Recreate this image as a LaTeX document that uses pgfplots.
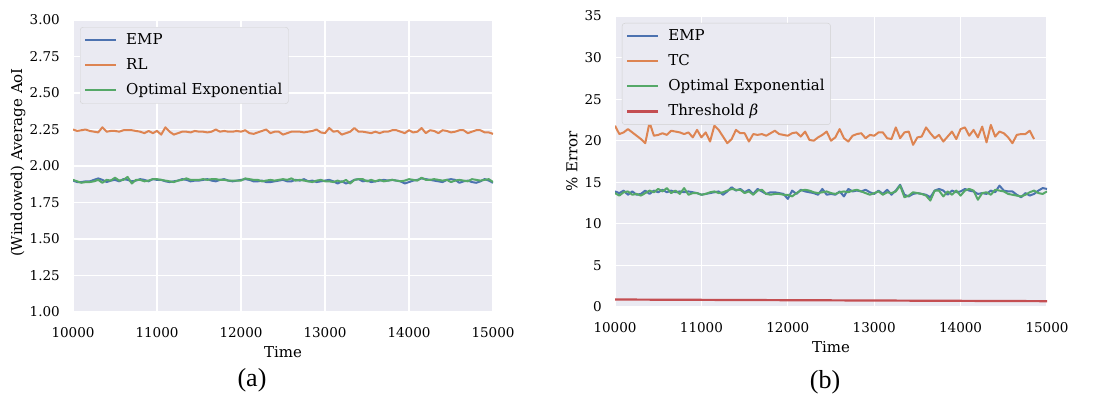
\documentclass[border=0pt]{standalone}
\usepackage{fontspec}
\setmainfont{DejaVu Serif}
\newfontfamily\capfont{Liberation Serif}
\usepackage{pgfplots}
\usepackage{pgfplotstable}
\pgfplotsset{compat=1.18}
\definecolor{sbblue}{HTML}{4C72B0}
\definecolor{sborange}{HTML}{DD8452}
\definecolor{sbgreen}{HTML}{55A868}
\definecolor{sbred}{HTML}{C44E52}
\definecolor{sbbg}{HTML}{EAEAF2}
\newcommand{\tf}{\fontsize{13.5bp}{16bp}\selectfont}
\newcommand{\lf}{\fontsize{15bp}{18bp}\selectfont}

\pgfplotstableread{
t emp rl opt
10000 1.90 2.25 1.905
10050 1.89 2.24 1.895
10100 1.89 2.245 1.885
10150 1.895 2.25 1.89
10200 1.895 2.24 1.89
10250 1.905 2.235 1.895
10300 1.915 2.23 1.905
10350 1.905 2.265 1.885
10400 1.89 2.235 1.905
10450 1.90 2.24 1.90
10500 1.905 2.24 1.92
10550 1.895 2.235 1.90
10600 1.91 2.245 1.905
10650 1.905 2.245 1.925
10700 1.895 2.245 1.88
10750 1.90 2.24 1.905
10800 1.91 2.235 1.905
10850 1.905 2.225 1.895
10900 1.895 2.24 1.90
10950 1.91 2.225 1.91
11000 1.905 2.24 1.91
11050 1.905 2.215 1.905
11100 1.895 2.265 1.90
11150 1.89 2.235 1.895
11200 1.895 2.215 1.89
11250 1.90 2.225 1.90
11300 1.91 2.235 1.905
11350 1.905 2.235 1.915
11400 1.895 2.23 1.905
11450 1.90 2.24 1.905
11500 1.90 2.235 1.905
11550 1.905 2.235 1.91
11600 1.91 2.23 1.905
11650 1.90 2.235 1.91
11700 1.895 2.25 1.91
11750 1.905 2.235 1.905
11800 1.91 2.24 1.905
11850 1.90 2.235 1.90
11900 1.895 2.235 1.90
11950 1.90 2.24 1.90
12000 1.905 2.235 1.90
12050 1.91 2.245 1.915
12100 1.905 2.225 1.91
12150 1.895 2.22 1.905
12200 1.895 2.23 1.905
12250 1.90 2.24 1.895
12300 1.89 2.25 1.90
12350 1.89 2.225 1.905
12400 1.895 2.235 1.90
12450 1.90 2.235 1.905
12500 1.905 2.215 1.91
12550 1.895 2.225 1.905
12600 1.895 2.235 1.915
12650 1.905 2.235 1.90
12700 1.90 2.235 1.905
12750 1.91 2.23 1.90
12800 1.895 2.235 1.895
12850 1.90 2.24 1.89
12900 1.89 2.25 1.90
12950 1.895 2.23 1.905
13000 1.90 2.225 1.895
13050 1.905 2.26 1.895
13100 1.895 2.235 1.89
13150 1.88 2.24 1.90
13200 1.895 2.215 1.89
13250 1.88 2.225 1.905
13300 1.89 2.235 1.88
13350 1.905 2.26 1.905
13400 1.91 2.235 1.91
13450 1.895 2.235 1.91
13500 1.90 2.23 1.895
13550 1.89 2.225 1.905
13600 1.895 2.235 1.895
13650 1.90 2.225 1.905
13700 1.905 2.235 1.895
13750 1.90 2.235 1.90
13800 1.905 2.245 1.905
13850 1.90 2.245 1.90
13900 1.895 2.235 1.895
13950 1.88 2.225 1.90
14000 1.89 2.245 1.91
14050 1.90 2.23 1.905
14100 1.905 2.235 1.90
14150 1.915 2.26 1.92
14200 1.91 2.225 1.905
14250 1.905 2.245 1.905
14300 1.90 2.24 1.91
14350 1.895 2.225 1.905
14400 1.89 2.245 1.90
14450 1.905 2.24 1.905
14500 1.91 2.23 1.89
14550 1.905 2.235 1.90
14600 1.885 2.245 1.905
14650 1.895 2.245 1.90
14700 1.90 2.225 1.895
14750 1.89 2.235 1.91
14800 1.885 2.245 1.905
14850 1.895 2.245 1.90
14900 1.91 2.23 1.905
14950 1.90 2.23 1.91
15000 1.885 2.22 1.89
}\tblA

\pgfplotstableread{
t emp opt
10000 13.9 13.7
10050 13.7 13.4
10100 14.0 13.8
10150 13.5 13.9
10200 13.9 13.5
10250 13.5 13.6
10300 13.6 13.4
10350 14.0 13.7
10400 13.6 14.0
10450 14.0 13.8
10500 13.8 14.2
10550 14.1 13.9
10600 13.8 14.3
10650 14.0 13.7
10700 13.8 14.0
10750 13.9 13.6
10800 13.8 14.3
10850 13.9 13.5
10900 13.8 13.7
10950 13.7 13.7
11000 13.5 13.5
11050 13.6 13.6
11100 13.7 13.8
11150 13.8 13.9
11200 13.9 13.7
11250 13.5 13.8
11300 13.9 14.0
11350 14.4 14.2
11400 14.0 14.1
11450 14.2 14.1
11500 13.8 13.7
11550 14.1 13.9
11600 13.6 13.5
11650 14.2 14.0
11700 13.9 14.1
11750 13.6 13.6
11800 13.8 13.5
11850 13.8 13.6
11900 13.7 13.6
11950 13.6 13.5
12000 13.0 13.5
12050 14.0 13.3
12100 13.6 13.7
12150 14.1 14.0
12200 13.9 14.1
12250 13.8 14.0
12300 13.7 13.8
12350 13.5 13.7
12400 14.2 13.8
12450 13.5 13.9
12500 13.6 13.7
12550 13.5 13.6
12600 13.9 13.8
12650 13.3 13.9
12700 14.2 13.8
12750 13.9 14.0
12800 14.0 14.1
12850 13.9 13.9
12900 14.1 13.7
12950 13.8 13.5
13000 13.6 13.7
13050 14.0 13.9
13100 13.6 13.5
13150 14.1 13.8
13200 13.5 13.7
13250 14.0 13.9
13300 14.7 14.6
13350 13.5 13.2
13400 13.3 13.4
13450 13.6 13.8
13500 13.7 13.7
13550 13.6 13.6
13600 13.5 13.4
13650 13.2 12.8
13700 14.0 14.0
13750 14.2 14.0
13800 14.0 13.3
13850 13.5 13.9
13900 14.0 13.5
13950 13.8 14.0
14000 13.9 13.4
14050 14.2 14.0
14100 14.0 14.2
14150 13.9 14.0
14200 13.6 12.9
14250 13.7 13.7
14300 13.6 13.8
14350 14.0 13.5
14400 13.8 14.1
14450 14.6 14.0
14500 14.0 13.9
14550 13.9 13.6
14600 13.9 13.5
14650 13.5 13.4
14700 13.2 13.3
14750 13.7 13.5
14800 13.4 13.8
14850 13.6 14.0
14900 14.0 13.7
14950 14.3 13.6
15000 14.2 13.9
}\tblB

\pgfplotstableread{
t tc
10000 21.8
10050 20.8
10100 21.0
10150 21.4
10200 21.0
10250 20.6
10300 20.2
10350 19.7
10400 22.2
10450 20.6
10500 20.7
10550 20.9
10600 20.7
10650 21.2
10700 21.1
10750 21.0
10800 20.8
10850 21.0
10900 20.4
10950 21.3
11000 20.4
11050 21.0
11100 19.9
11150 21.8
11200 21.3
11250 20.5
11300 19.7
11350 20.2
11400 21.3
11450 20.9
11500 20.9
11550 19.9
11600 20.8
11650 20.7
11700 20.8
11750 20.6
11800 20.9
11850 21.2
11900 20.8
11950 20.7
12000 20.6
12050 20.9
12100 21.0
12150 20.5
12200 21.1
12250 20.1
12300 20.0
12350 20.4
12400 20.7
12450 21.1
12500 20.0
12550 20.4
12600 21.4
12650 20.3
12700 19.9
12750 20.6
12800 20.8
12850 20.9
12900 20.3
12950 20.7
13000 20.6
13050 21.0
13100 21.0
13150 20.3
13200 20.2
13250 21.6
13300 20.3
13350 21.0
13400 21.1
13450 19.5
13500 20.4
13550 20.5
13600 21.6
13650 20.9
13700 20.3
13750 20.7
13800 19.9
13850 20.5
13900 21.1
13950 20.2
14000 21.4
14050 21.6
14100 20.6
14150 21.3
14200 20.4
14250 21.7
14300 19.8
14350 21.9
14400 20.5
14450 21.1
14500 20.9
14550 20.4
14600 19.7
14650 20.7
14700 20.8
14750 20.8
14800 21.2
14850 20.2
}\tblC

\tikzset{
  lblue/.style={draw=sbblue, line width=2bp, line join=round},
  lorange/.style={draw=sborange, line width=2bp, line join=round},
  lgreen/.style={draw=sbgreen, line width=2bp, line join=round},
  lred/.style={draw=sbred, line width=2.2bp, line join=round},
}

\pgfplotsset{sbstyle/.style={
  scale only axis,
  axis background/.style={fill=sbbg},
  axis line style={draw=none},
  tick style={draw=none},
  grid=major,
  major grid style={white, line width=1.2bp},
  xmin=10000, xmax=15000,
  xtick={10000,11000,12000,13000,14000,15000},
  scaled x ticks=false,
  /pgf/number format/1000 sep={},
  /pgf/number format/assume math mode=true,
  tick label style={font=\tf},
  yticklabel style={inner sep=0pt, xshift=-13bp},
  xticklabel style={inner sep=0pt, yshift=-15bp},
  label style={font=\lf},
  xlabel={Time},
  xlabel style={at={(axis description cs:0.5,-0.137)}, anchor=center},
  legend style={font=\lf, fill=sbbg, draw=black!18, rounded corners=3bp,
    anchor=north west, inner xsep=4bp, inner ysep=4bp, row sep=6.5bp,
    nodes={inner sep=2bp, text height=11bp, text depth=3.5bp},
    /tikz/every odd column/.append style={column sep=7bp}},
  legend cell align=left,
  legend image code/.code={\draw[#1] (0bp,0bp) -- (31bp,0bp);},
  no markers,
}}

\begin{document}
\begin{tikzpicture}
\path[use as bounding box] (0,0) rectangle (1112bp,398bp);
\begin{axis}[sbstyle,
  at={(73bp,86bp)}, anchor=south west,
  width=420bp, height=292bp,
  ymin=1, ymax=3,
  ytick={1,1.25,1.5,1.75,2,2.25,2.5,2.75,3},
  yticklabel style={/pgf/number format/.cd, fixed, fixed zerofill, precision=2},
  ylabel={(Windowed) Average AoI},
  ylabel style={at={(axis description cs:-0.131,0.512)}, anchor=center},
  legend style={at={(axis description cs:0.0167,0.976)}},
]
\addplot[lblue] table[x=t, y=emp] {\tblA};
\addlegendentry{EMP}
\addplot[lorange] table[x=t, y=rl] {\tblA};
\addlegendentry{RL}
\addplot[lgreen] table[x=t, y=opt] {\tblA};
\addlegendentry{Optimal Exponential}
\end{axis}
\begin{axis}[sbstyle,
  at={(615bp,91bp)}, anchor=south west,
  width=432bp, height=291bp,
  ymin=0, ymax=35,
  ytick={0,5,10,15,20,25,30,35},
  ylabel={\% Error},
  ylabel style={at={(axis description cs:-0.0995,0.5)}, anchor=center},
  legend style={at={(axis description cs:0.016,0.976)}},
]
\addplot[lblue] table[x=t, y=emp] {\tblB};
\addlegendentry{EMP}
\addplot[lorange] table[x=t, y=tc] {\tblC};
\addlegendentry{TC}
\addplot[lgreen] table[x=t, y=opt] {\tblB};
\addlegendentry{Optimal Exponential}
\addplot[lred] coordinates {(10000,0.9) (15000,0.7)};
\addlegendentry{Threshold \textit{β}}
\end{axis}
\node[font=\capfont\fontsize{26bp}{30bp}\selectfont] at (252bp,18bp) {(a)};
\node[font=\capfont\fontsize{26bp}{30bp}\selectfont] at (825bp,16bp) {(b)};
\end{tikzpicture}
\end{document}
